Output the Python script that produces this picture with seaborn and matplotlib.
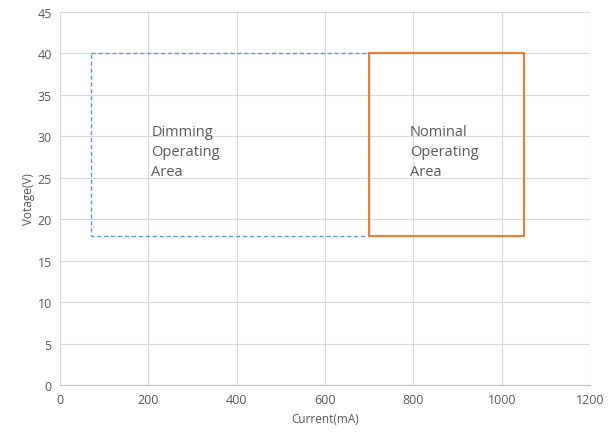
import pandas as pd
import matplotlib
matplotlib.use("Agg")
import matplotlib.pyplot as plt
import seaborn as sns

# operating areas: current range (mA) and voltage range (V)
areas = ["Dimming", "Nominal"]
current_min = [70, 700]
current_max = [700, 1050]
voltage_min = [18, 18]
voltage_max = [40, 40]
labels = ["Dimming\nOperating\nArea", "Nominal\nOperating\nArea"]
label_x = [207, 792]
label_y = [31.5, 31.5]

x_ticks = [0, 200, 400, 600, 800, 1000, 1200]
y_ticks = [0, 5, 10, 15, 20, 25, 30, 35, 40, 45]

rows = []
for i, name in enumerate(areas):
    xs = [current_min[i], current_max[i], current_max[i], current_min[i], current_min[i]]
    ys = [voltage_max[i], voltage_max[i], voltage_min[i], voltage_min[i], voltage_max[i]]
    for k, (x, y) in enumerate(zip(xs, ys)):
        rows.append({"area": name, "order": k, "current": x, "voltage": y})
df = pd.DataFrame(rows)

sns.set_style("white")
plt.rcParams['font.family'] = ['Open Sans', 'DejaVu Sans']

fig = plt.figure(figsize=(6.15, 4.39), dpi=100)
ax = fig.add_axes([0.0976, 0.1207, 0.8618, 0.8497])

sns.lineplot(data=df, x="current", y="voltage", hue="area", style="area",
             palette={"Dimming": "#5B9BD5", "Nominal": "#ED7D31"},
             dashes={"Dimming": (3, 2), "Nominal": ""},
             sort=False, estimator=None, units="area", legend=False, ax=ax)
for line, lw in zip(ax.lines, [1.0, 1.5]):
    line.set_linewidth(lw)

for t, x, y in zip(labels, label_x, label_y):
    ax.text(x, y, t, fontsize=10.5, color="#595959", va="top", ha="left",
            linespacing=1.45)

ax.set_xlim(0, 1200)
ax.set_ylim(0, 45)
ax.set_xticks(x_ticks)
ax.set_yticks(y_ticks)
ax.grid(True, color="#D9D9D9", linewidth=0.8)
ax.set_axisbelow(True)
for s in ["top", "right", "left"]:
    ax.spines[s].set_visible(False)
ax.spines["bottom"].set_color("#BFBFBF")
ax.tick_params(axis="both", length=0, labelsize=9, labelcolor="#595959", pad=6)
ax.set_xlabel("Current(mA)", fontsize=8.5, color="#595959", labelpad=4)
ax.set_ylabel("Votage(V)", fontsize=8.5, color="#595959", labelpad=2)

fig.savefig("out.png", dpi=100)
